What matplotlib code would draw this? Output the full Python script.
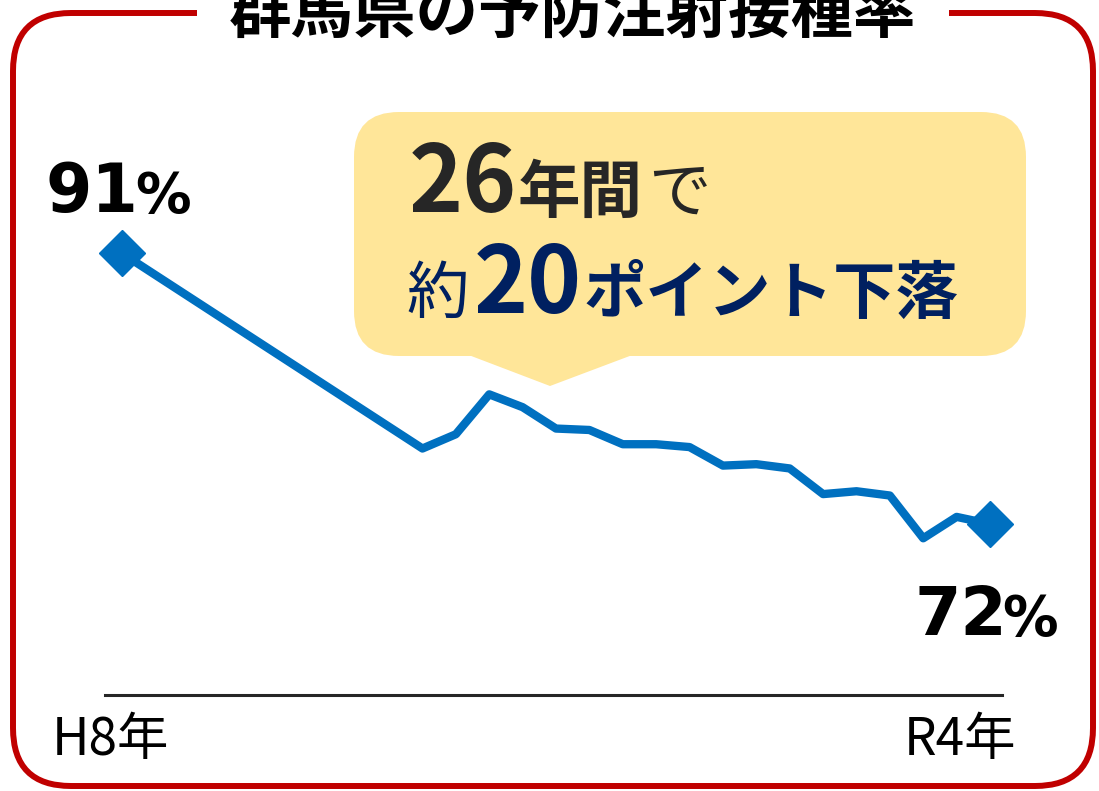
import matplotlib
matplotlib.use('Agg')
import matplotlib.pyplot as plt
from matplotlib.patches import FancyBboxPatch, Polygon, Rectangle

plt.rcParams['font.family'] = ['Noto Sans CJK JP', 'DejaVu Sans']

# 群馬県の予防注射接種率 (H8年〜R4年)
years = [1996, 2005, 2006, 2007, 2008, 2009, 2010, 2011, 2012, 2013,
         2014, 2015, 2016, 2017, 2018, 2019, 2020, 2021, 2022]
rate = [91.0, 77.3, 78.3, 81.1, 80.2, 78.7, 78.6, 77.6, 77.6, 77.4,
        76.1, 76.2, 75.9, 74.1, 74.3, 74.0, 71.0, 72.5, 72.0]
start_label = 'H8年'
end_label = 'R4年'
title = '群馬県の予防注射接種率'

W, H = 1099, 791
fig = plt.figure(figsize=(W / 100, H / 100), dpi=100)

# 装飾用 (ピクセル座標)
bg = fig.add_axes([0, 0, 1, 1])
bg.set_xlim(0, W)
bg.set_ylim(H, 0)
bg.axis('off')

red = '#C00000'
frame = FancyBboxPatch((13, 13), 1080, 773, boxstyle='round,pad=0,rounding_size=58',
                       fc='none', ec=red, lw=4.3)
bg.add_patch(frame)
bg.add_patch(Rectangle((197, 0), 752, 30, fc='white', ec='none', zorder=2))
bg.text(572, 32, title, ha='center', va='baseline', fontsize=45,
        fontweight='bold', color='black', zorder=3)

# 吹き出し
yellow = '#FFE699'
bubble = FancyBboxPatch((354, 112), 672, 244, boxstyle='round,pad=0,rounding_size=45',
                        fc=yellow, ec='none')
bg.add_patch(bubble)
bg.add_patch(Polygon([(466, 354), (635, 354), (550, 386)], closed=True, fc=yellow, ec='none'))

dark = '#262626'
navy = '#002060'
bg.text(409, 212, '26', fontsize=66, fontweight='bold', color=dark, va='baseline')
bg.text(518, 212, '年間', fontsize=45, fontweight='bold', color=dark, va='baseline')
bg.text(648, 212, 'で', fontsize=45, color=dark, va='baseline')
bg.text(406, 313, '約', fontsize=45, color=navy, va='baseline')
bg.text(474, 313, '20', fontsize=66, fontweight='bold', color=navy, va='baseline')
bg.text(584, 313, 'ポイント下落', fontsize=45, fontweight='bold', color=navy, va='baseline')

# 折れ線
ax = fig.add_axes([105.3 / W, 1 - 695 / H, (1001.7 - 105.3) / W, (695 - 196.3) / H])
ax.set_xlim(1995.5, 2022.35)
ax.set_ylim(60, 95)
ax.patch.set_alpha(0)
for s in ['top', 'right', 'left']:
    ax.spines[s].set_visible(False)
ax.spines['bottom'].set_color(dark)
ax.spines['bottom'].set_linewidth(2.2)
ax.set_xticks([])
ax.set_yticks([])

blue = '#0070C0'
ax.plot(years, rate, color=blue, lw=6, marker='D', ms=23,
        markevery=[0, len(years) - 1], clip_on=False, zorder=3)

pct_font = ['DejaVu Sans']
ax.annotate(f'{rate[0]:.0f}', xy=(years[0], rate[0]), xytext=(-76, 41),
            textcoords='offset pixels', fontsize=48, fontweight='bold',
            family=pct_font, ha='left', va='baseline')
ax.annotate('%', xy=(years[0], rate[0]), xytext=(13, 41),
            textcoords='offset pixels', fontsize=40, fontweight='bold',
            family=pct_font, ha='left', va='baseline')
ax.annotate(f'{rate[-1]:.0f}', xy=(years[-1], rate[-1]), xytext=(-76, -111),
            textcoords='offset pixels', fontsize=48, fontweight='bold',
            family=pct_font, ha='left', va='baseline')
ax.annotate('%', xy=(years[-1], rate[-1]), xytext=(12, -111),
            textcoords='offset pixels', fontsize=40, fontweight='bold',
            family=pct_font, ha='left', va='baseline')

bg.text(52, 755, start_label, fontsize=37, color='black', va='baseline')
bg.text(904, 755, end_label, fontsize=37, color='black', va='baseline')

fig.savefig('out.png', dpi=100)
